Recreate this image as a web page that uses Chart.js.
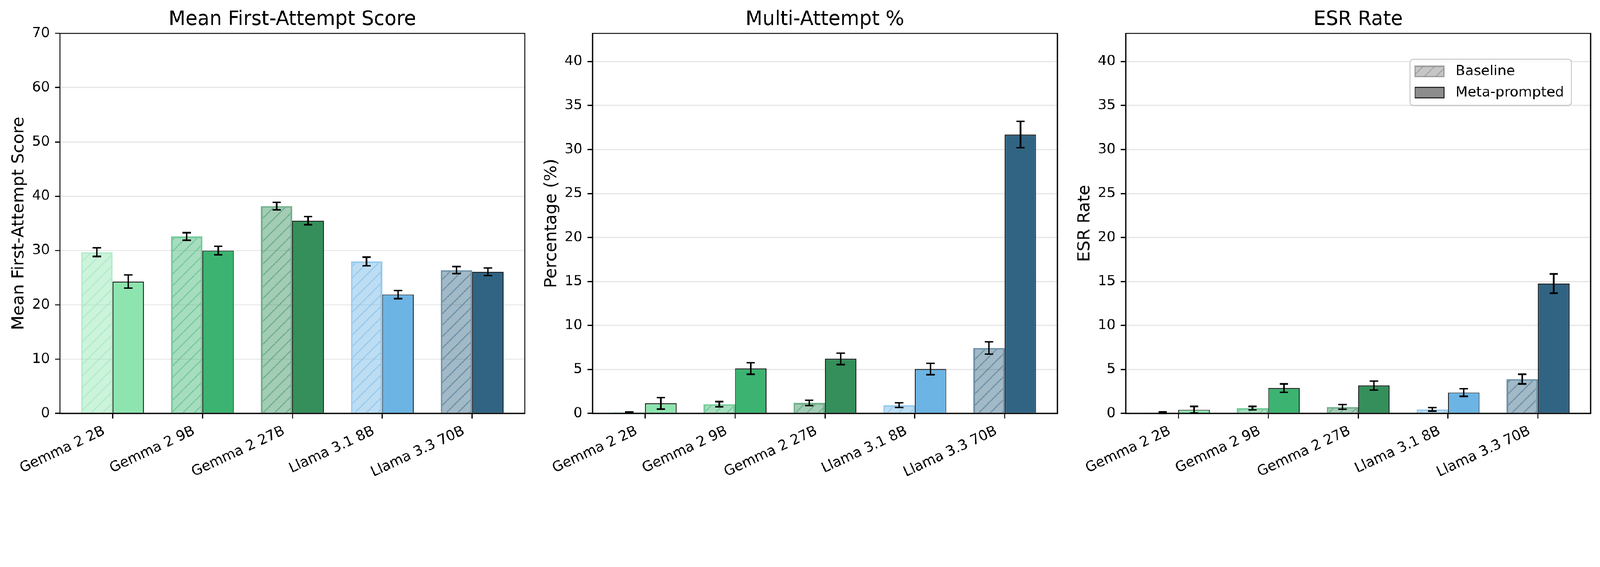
<!DOCTYPE html>
<html>
<head>
<meta charset="utf-8">
<script src="https://cdn.jsdelivr.net/npm/chart.js@4.4.1/dist/chart.umd.min.js"></script>
<style>
  html, body { margin: 0; padding: 0; background: #fff; overflow: hidden; }
  #wrap { position: relative; width: 4750px; height: 1451px; transform-origin: 0 0; }
  canvas { position: absolute; top: 0; }
</style>
</head>
<body>
<div id="wrap">
  <canvas id="first" width="1581" height="1451" style="left:0px"></canvas>
  <canvas id="multi" width="1581" height="1451" style="left:1581px"></canvas>
  <canvas id="esr" width="1581" height="1451" style="left:3164px"></canvas>
</div>
<script>
// values
const models = ['Gemma 2 2B', 'Gemma 2 9B', 'Gemma 2 27B', 'Llama 3.1 8B', 'Llama 3.3 70B'];
const modelColors = ['#8ee4af', '#3cb371', '#348f5a', '#6cb4e4', '#316483'];
const legendLabels = ['Baseline', 'Meta-prompted'];

const firstBaseline = [29.7, 32.6, 38.2, 28.0, 26.4];
const firstBaselineErr = [0.8, 0.7, 0.7, 0.8, 0.65];
const firstMeta = [24.3, 30.0, 35.5, 21.9, 26.1];
const firstMetaErr = [1.2, 0.8, 0.75, 0.75, 0.7];

const multiBaseline = [0.12, 1.05, 1.2, 0.95, 7.45];
const multiBaselineErr = [0.05, 0.3, 0.3, 0.27, 0.7];
const multiMeta = [1.15, 5.1, 6.2, 5.05, 31.7];
const multiMetaErr = [0.65, 0.65, 0.65, 0.65, 1.5];

const esrBaseline = [0.1, 0.6, 0.74, 0.47, 3.9];
const esrBaselineErr = [0.08, 0.2, 0.27, 0.2, 0.55];
const esrMeta = [0.42, 2.87, 3.17, 2.38, 14.76];
const esrMetaErr = [0.38, 0.48, 0.52, 0.44, 1.1];

const FONT = '"DejaVu Sans"';
const xPad = 0.585;   // matplotlib-like margin around the bar groups

// the page is laid out at 4750x1451; fit it to whatever css width the window reports
const fit = Math.min(window.innerWidth / 4750, window.innerHeight / 1451) || 1;
document.getElementById('wrap').style.transform = `scale(${fit})`;

function rgba(hex, a) {
  const n = parseInt(hex.slice(1), 16);
  return `rgba(${n >> 16},${(n >> 8) & 255},${n & 255},${a})`;
}

// '//' hatch tile, same colour as the bar
function hatch(hex) {
  const s = 34;
  const c = document.createElement('canvas');
  c.width = s; c.height = s;
  const g = c.getContext('2d');
  g.fillStyle = rgba(hex, 0.45);
  g.fillRect(0, 0, s, s);
  g.strokeStyle = rgba(hex, 0.45);
  g.lineWidth = 3.5;
  g.beginPath();
  for (const o of [-s, 0, s]) { g.moveTo(o, s); g.lineTo(o + s, 0); }
  g.stroke();
  return g.createPattern(c, 'repeat');
}

function drawLegend(ctx, a) {
  ctx.font = `41.7px ${FONT}`;
  const textW = Math.max(...legendLabels.map(t => ctx.measureText(t).width));
  const x0 = a.left + 844, y0 = a.top + 77;
  const w = 135 + textW + 22, h = 137;
  ctx.beginPath();
  ctx.roundRect(x0, y0, w, h, 10);
  ctx.fillStyle = 'rgba(255,255,255,0.8)';
  ctx.fill();
  ctx.lineWidth = 3.3;
  ctx.strokeStyle = '#cccccc';
  ctx.stroke();

  const rows = [y0 + 36, y0 + 99];
  // baseline handle
  ctx.fillStyle = hatch('#808080');
  ctx.fillRect(x0 + 15, rows[0] - 15.5, 86, 31);
  ctx.strokeStyle = rgba('#808080', 0.7);
  ctx.lineWidth = 4;
  ctx.strokeRect(x0 + 15, rows[0] - 15.5, 86, 31);
  // meta handle
  ctx.fillStyle = '#8c8c8c';
  ctx.fillRect(x0 + 15, rows[1] - 15.5, 86, 31);
  ctx.strokeStyle = 'rgba(0,0,0,0.9)';
  ctx.lineWidth = 2.5;
  ctx.strokeRect(x0 + 15, rows[1] - 15.5, 86, 31);

  ctx.fillStyle = '#000';
  ctx.textAlign = 'left';
  ctx.textBaseline = 'middle';
  legendLabels.forEach((t, i) => ctx.fillText(t, x0 + 135, rows[i]));
}

function panel(id, title, yTitle, base, baseErr, meta, metaErr, yMax, yStep, withLegend) {
  const errors = [baseErr, metaErr];

  const decor = {
    id: 'decor',
    afterDraw(chart) {
      const { ctx, chartArea: a } = chart;
      const y = chart.scales.y;
      ctx.save();
      // error bars
      ctx.strokeStyle = '#000';
      ctx.lineWidth = 4.5;
      chart.data.datasets.forEach((ds, d) => {
        chart.getDatasetMeta(d).data.forEach((bar, i) => {
          const hi = y.getPixelForValue(ds.data[i] + errors[d][i]);
          const lo = y.getPixelForValue(ds.data[i] - errors[d][i]);
          ctx.beginPath();
          ctx.moveTo(bar.x, hi); ctx.lineTo(bar.x, lo);
          ctx.moveTo(bar.x - 12.5, hi); ctx.lineTo(bar.x + 12.5, hi);
          ctx.moveTo(bar.x - 12.5, lo); ctx.lineTo(bar.x + 12.5, lo);
          ctx.stroke();
        });
      });
      // frame
      ctx.lineWidth = 3.3;
      ctx.strokeRect(a.left, a.top, a.right - a.left, a.bottom - a.top);
      // title
      ctx.fillStyle = '#000';
      ctx.font = `58px ${FONT}`;
      ctx.textAlign = 'center';
      ctx.textBaseline = 'alphabetic';
      ctx.fillText(title, (a.left + a.right) / 2, a.top - 25);
      if (withLegend) drawLegend(ctx, a);
      ctx.restore();
    }
  };

  return new Chart(document.getElementById(id), {
    type: 'bar',
    data: {
      labels: models,
      datasets: [
        {
          label: legendLabels[0],
          data: base,
          backgroundColor: modelColors.map(c => hatch(c)),
          borderColor: modelColors.map(c => rgba(c, 0.7)),
          borderWidth: 5,
          borderSkipped: 'bottom',
          categoryPercentage: 0.7,
          barPercentage: 1.0
        },
        {
          label: legendLabels[1],
          data: meta,
          backgroundColor: modelColors,
          borderColor: 'rgba(0,0,0,0.9)',
          borderWidth: 2.5,
          borderSkipped: 'bottom',
          categoryPercentage: 0.7,
          barPercentage: 1.0
        }
      ]
    },
    options: {
      responsive: false,
      animation: false,
      devicePixelRatio: 1,
      events: [],
      layout: { padding: { top: 99, left: 0, right: 23, bottom: 0 } },
      plugins: { legend: { display: false }, title: { display: false }, tooltip: { enabled: false } },
      scales: {
        x: {
          offset: true,
          grid: { offset: false, drawOnChartArea: false, tickLength: 15, tickWidth: 3.3, tickColor: '#000', color: '#000' },
          border: { display: false },
          ticks: {
            autoSkip: false, minRotation: 25, maxRotation: 25, padding: 13, labelOffset: -25,
            color: '#000', font: { family: FONT, size: 41.7 }
          },
          afterBuildTicks: s => { s._startValue = -xPad; s._valueRange = models.length - 1 + 2 * xPad; },
          afterFit: s => { s.height = 224; s.paddingLeft = 0; s.paddingRight = 0; }
        },
        y: {
          min: 0,
          max: yMax,
          z: 1,
          grid: { color: 'rgba(176,176,176,0.3)', lineWidth: 3.3, tickLength: 15, tickWidth: 3.3, tickColor: '#000' },
          border: { display: false },
          ticks: { stepSize: yStep, includeBounds: false, padding: 15, color: '#000', font: { family: FONT, size: 41.7 } },
          title: { display: true, text: yTitle, color: '#000', font: { family: FONT, size: 50 }, padding: { top: 27, bottom: 0 } },
          afterFit: s => { s.width = 178; }
        }
      }
    },
    plugins: [decor]
  });
}

panel('first', 'Mean First-Attempt Score', 'Mean First-Attempt Score',
  firstBaseline, firstBaselineErr, firstMeta, firstMetaErr, 70, 10, false);
panel('multi', 'Multi-Attempt %', 'Percentage (%)',
  multiBaseline, multiBaselineErr, multiMeta, multiMetaErr, 43.2, 5, false);
panel('esr', 'ESR Rate', 'ESR Rate',
  esrBaseline, esrBaselineErr, esrMeta, esrMetaErr, 43.2, 5, true);
</script>
</body>
</html>
